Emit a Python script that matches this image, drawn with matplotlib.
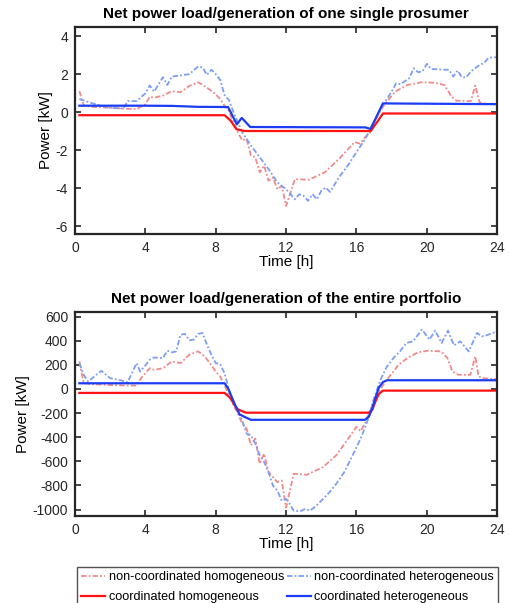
import numpy as np
import matplotlib
matplotlib.use("Agg")
import matplotlib.pyplot as plt

plt.rcParams['font.family'] = ['Liberation Sans', 'DejaVu Sans']
plt.rcParams['axes.unicode_minus'] = False

# ---------------- single prosumer [kW] ----------------
t1_nc_hom = [0.25, 0.5, 1, 2, 3, 3.5, 4, 4.25, 4.5, 5, 5.5, 6, 6.5, 7, 7.5, 8, 8.25, 8.5, 8.75,
             9, 9.25, 9.5, 9.75, 10, 10.25, 10.5, 10.75, 11, 11.25, 11.5, 11.75, 12, 12.5, 13.3,
             14.2, 15, 15.9, 16.2, 16.5, 16.85, 17.2, 17.6, 18.2, 18.9, 19.7, 20.4, 21, 21.4,
             21.7, 22.5, 22.75, 23, 23.4, 24]
p1_nc_hom = [1.11, 0.34, 0.28, 0.23, 0.18, 0.16, 0.41, 0.81, 0.76, 0.87, 1.1, 1.05, 1.38, 1.57,
             1.29, 0.94, 0.69, 0.34, 0.05, -0.51, -1.04, -1.48, -1.4, -2.28, -2.37, -3.16, -2.81,
             -3.6, -3.43, -4.05, -3.87, -4.93, -3.52, -3.55, -3.16, -2.46, -1.57, -1.66, -1.31,
             -1.0, -0.16, 0.41, 1.08, 1.43, 1.57, 1.55, 1.43, 0.81, 0.6, 0.58, 1.4, 0.51, 0.44, 0.44]

t1_nc_het = [0.25, 1, 2, 2.75, 3, 3.5, 4, 4.25, 4.5, 5, 5.25, 5.5, 6, 6.5, 7, 7.25, 7.5, 7.75, 8,
             8.25, 8.5, 8.75, 9, 9.5, 10, 10.5, 11, 11.5, 12, 12.25, 12.5, 12.75, 13, 13.25,
             13.5, 13.75, 14, 14.25, 14.5, 15, 15.5, 16, 16.5, 17, 17.5, 18, 18.25, 18.5, 19,
             19.25, 19.5, 19.75, 20, 20.25, 20.5, 21, 21.25, 21.5, 21.75, 22, 22.25, 22.5,
             22.75, 23, 23.25, 23.5, 23.75, 24]
p1_nc_het = [0.69, 0.46, 0.23, 0.19, 0.58, 0.58, 0.99, 1.4, 1.08, 1.84, 1.43, 1.87, 1.93, 2.0,
             2.4, 2.35, 1.96, 2.23, 2.0, 1.7, 0.9, 0.64, 0.02, -1.04, -1.75, -2.37, -2.99, -3.69,
             -4.05, -4.31, -4.58, -4.31, -4.4, -4.66, -4.31, -4.58, -4.13, -3.96, -4.19, -3.43,
             -2.81, -2.1, -1.4, -0.51, 0.37, 1.08, 1.52, 1.47, 1.78, 2.31, 2.1, 2.14, 2.54, 2.26,
             2.26, 2.23, 2.23, 1.87, 2.19, 1.82, 1.84, 2.14, 2.31, 2.49, 2.58, 2.85, 2.88, 2.88]

t1_c_hom = [0.25, 8.5, 8.85, 9.18, 9.65, 16.8, 17.15, 17.5, 24]
p1_c_hom = [-0.16, -0.16, -0.45, -0.9, -0.99, -0.99, -0.55, -0.07, -0.07]

t1_c_het = [0.25, 4, 5.5, 7, 8.7, 9.2, 9.48, 9.96, 16.5, 16.8, 17.5, 24]
p1_c_het = [0.34, 0.34, 0.33, 0.28, 0.27, -0.64, -0.3, -0.78, -0.8, -0.88, 0.46, 0.42]

# ---------------- entire portfolio [kW] ----------------
t2_nc_hom = [0.25, 0.5, 1, 2, 3, 3.5, 3.75, 4, 4.25, 4.5, 5, 5.5, 6, 6.5, 7, 7.25, 7.5, 8, 8.25,
             8.5, 8.75, 9, 9.25, 9.5, 9.75, 10, 10.25, 10.5, 10.75, 11, 11.25, 11.5, 11.75, 12,
             12.43, 13.17, 14.1, 14.85, 15.4, 16, 16.24, 16.52, 16.9, 17.27, 17.64, 18.1, 18.38,
             18.94, 19.5, 20.06, 20.8, 21.17, 21.45, 21.8, 22.47, 22.75, 22.94, 23.2, 24]
p2_nc_hom = [228, 47, 39, 33, 28, 28, 89, 131, 172, 158, 172, 228, 214, 284, 311, 284, 247, 145,
             103, 33, -56, -133, -203, -286, -328, -467, -411, -620, -537, -689, -731, -773, -760,
             -985, -703, -712, -648, -550, -439, -314, -350, -272, -133, -22, 61, 145, 200, 261,
             303, 317, 311, 256, 145, 117, 117, 270, 103, 89, 81]

t2_nc_het = [0.25, 0.5, 0.75, 1.25, 1.5, 2, 2.5, 3, 3.5, 3.7, 4, 4.25, 4.5, 5, 5.25, 5.5, 5.75,
             6, 6.25, 6.5, 6.75, 7, 7.25, 7.5, 7.75, 8, 8.25, 8.5, 8.75, 9, 9.25, 9.5, 9.75, 10,
             10.25, 10.5, 10.75, 11, 11.25, 11.5, 11.75, 12, 12.15, 12.43, 12.8, 13.08, 13.36,
             13.73, 14.1, 14.47, 14.85, 15.31, 15.78, 16.24, 16.61, 16.99, 17.36, 17.73, 18.1,
             18.47, 18.84, 19.22, 19.72, 20.15, 20.47, 20.84, 21.2, 21.54, 21.9, 22.38, 22.85,
             23.12, 23.4, 24]
p2_nc_het = [214, 117, 61, 122, 150, 89, 75, 56, 214, 145, 195, 242, 261, 256, 317, 303, 311,
             450, 456, 403, 409, 456, 464, 367, 284, 214, 206, 131, -8, -120, -175, -259, -370,
             -384, -453, -550, -606, -689, -801, -842, -926, -912, -940, -1009, -1015, -995,
             -1009, -967, -912, -856, -787, -689, -550, -411, -272, -78, 75, 186, 256, 311, 381,
             395, 492, 409, 484, 381, 484, 361, 395, 311, 464, 436, 445, 478]

t2_c_hom = [0.25, 8.5, 8.85, 9.07, 9.26, 9.48, 9.72, 16.7, 16.9, 17.08, 17.27, 17.5, 24]
p2_c_hom = [-33, -33, -78, -133, -170, -183, -197, -197, -172, -103, -42, -14, -14]

t2_c_het = [0.25, 8.5, 8.7, 8.9, 9.1, 9.35, 9.63, 10, 16.48, 16.7, 16.9, 17.08, 17.27, 17.5,
            17.73, 24]
p2_c_het = [47, 47, 6, -64, -133, -211, -231, -256, -256, -231, -161, -72, 11, 56, 72, 72]

labels = ["non-coordinated homogeneous", "non-coordinated heterogeneous",
          "coordinated homogeneous", "coordinated heterogeneous"]

red_light = "#f28a8a"
blue_light = "#7d9ef5"
red = "#ff1212"
blue = "#1a3cf5"
frame = "#262626"
dashdot = (0, (3.0, 1.2, 1.0, 1.2))


def style_axes(ax, ylim, yticks, title):
    ax.set_xlim(0, 24)
    ax.set_ylim(*ylim)
    ax.set_xticks(np.arange(0, 25, 4))
    ax.set_yticks(yticks)
    ax.tick_params(direction="in", length=4, width=1.2, top=True, right=True,
                   labelsize=10, colors=frame, pad=5)
    for sp in ax.spines.values():
        sp.set_linewidth(1.6)
        sp.set_color(frame)
    ax.set_title(title, fontsize=11, fontweight="bold", pad=6)
    ax.set_xlabel("Time [h]", fontsize=11, labelpad=0)
    ax.set_ylabel("Power [kW]", fontsize=11, labelpad=2)


fig = plt.figure(figsize=(5.1, 6.03), dpi=100)
ax1 = fig.add_axes([0.147, 0.612, 0.828, 0.344])
ax2 = fig.add_axes([0.147, 0.145, 0.828, 0.338])

lines = []
for ax, data in [(ax1, (t1_nc_hom, p1_nc_hom, t1_nc_het, p1_nc_het, t1_c_hom, p1_c_hom, t1_c_het, p1_c_het)),
                 (ax2, (t2_nc_hom, p2_nc_hom, t2_nc_het, p2_nc_het, t2_c_hom, p2_c_hom, t2_c_het, p2_c_het))]:
    a, b, c, d, e, f, g, h = data
    l1, = ax.plot(a, b, linestyle=dashdot, color=red_light, lw=1.3, label=labels[0])
    l2, = ax.plot(c, d, linestyle=dashdot, color=blue_light, lw=1.3, label=labels[1])
    l3, = ax.plot(e, f, "-", color=red, lw=1.6, label=labels[2])
    l4, = ax.plot(g, h, "-", color=blue, lw=1.6, label=labels[3])
    lines = [l1, l3, l2, l4]

style_axes(ax1, (-6.4, 4.5), np.arange(-6, 5, 2), "Net power load/generation of one single prosumer")
style_axes(ax2, (-1050, 640), np.arange(-1000, 601, 200), "Net power load/generation of the entire portfolio")

leg = fig.legend(lines, [l.get_label() for l in lines], ncol=2, loc="upper left",
                 bbox_to_anchor=(77 / 510, 1 - 567 / 603),
                 borderaxespad=0, fontsize=9.1, frameon=True, fancybox=False,
                 handlelength=1.9, handletextpad=0.25, borderpad=0.35, labelspacing=0.6,
                 columnspacing=0.2)
leg.get_frame().set_edgecolor(frame)
leg.get_frame().set_linewidth(1.0)

fig.savefig("out.png", dpi=100)
